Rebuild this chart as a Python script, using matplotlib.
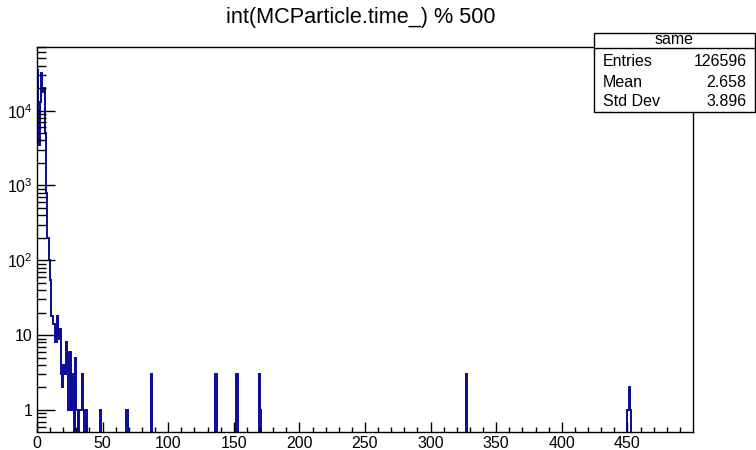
import matplotlib
matplotlib.use("Agg")
import matplotlib.pyplot as plt
import numpy as np
from matplotlib.patches import Rectangle
from matplotlib.ticker import FixedLocator, LogLocator, NullFormatter

plt.rcParams['font.family'] = ['Liberation Sans', 'DejaVu Sans']
plt.rcParams['mathtext.fontset'] = 'custom'
plt.rcParams['mathtext.rm'] = 'Liberation Sans'

# counts of the first bins (0, 1, 2, ...)
low_counts = [35000, 3500, 13000, 32000, 18000, 20000, 5000, 800, 200, 100,
              55, 18, 14, 14, 8, 18, 9, 12, 3, 2,
              4, 3, 8, 6, 1, 6, 1, 3, 0, 5,
              1, 0, 1, 1, 3, 1, 0, 1]

# isolated bins further right
spike_bins = [48, 68, 87, 136, 152, 169, 170, 327, 450, 451, 452]
spike_counts = [1, 1, 3, 3, 3, 3, 1, 3, 1, 2, 1]

title = "int(MCParticle.time_) % 500"
stats_name = "same"
stats_rows = [("Entries", "126596"), ("Mean", "2.658"), ("Std Dev", "3.896")]

n_bins = 500
edges = np.arange(n_bins + 1)
counts = np.zeros(n_bins)
counts[:len(low_counts)] = low_counts
counts[spike_bins] = spike_counts

fig = plt.figure(figsize=(7.56, 4.5), dpi=100)
ax = fig.add_axes([37 / 756, 1 - 432 / 450, (693 - 37) / 756, (432 - 47) / 450])

# empty bins are pushed below the visible range, like ROOT does on log scale
shown = np.where(counts > 0, counts, 1e-3)
ax.stairs(shown, edges, baseline=1e-3, color="#0a0a9c", lw=1.4)

ax.set_yscale("log")
ax.set_xlim(0, 500)

ax.xaxis.set_major_locator(FixedLocator(np.arange(0, 451, 50)))
ax.xaxis.set_minor_locator(FixedLocator(np.arange(0, 500, 10)))
ax.yaxis.set_minor_locator(LogLocator(base=10, subs=np.arange(2, 10), numticks=20))
ax.yaxis.set_minor_formatter(NullFormatter())
ax.set_yticks([1, 10, 100, 1000, 10000])
ax.set_yticklabels(["1", "10", r"$\mathregular{10^{2}}$",
                    r"$\mathregular{10^{3}}$", r"$\mathregular{10^{4}}$"])
ax.set_ylim(0.507, 71000)

ax.tick_params(axis="both", which="both", direction="in", labelsize=11.5,
               top=False, right=False, width=1.0)
ax.tick_params(axis="x", which="major", length=7.2, pad=3)
ax.tick_params(axis="x", which="minor", length=3.6)
ax.tick_params(axis="y", which="major", length=13, pad=3)
ax.tick_params(axis="y", which="minor", length=6.5)
for sp in ax.spines.values():
    sp.set_linewidth(1.0)

fig.text(361 / 756, 1 - 18 / 450, title, ha="center", va="center", fontsize=15.6)

# stats box
bx0, bx1 = 594 / 756, 755 / 756
by0, by1 = 1 - 112 / 450, 1 - 33 / 450
fig.patches.append(Rectangle((bx0, by0), bx1 - bx0, by1 - by0,
                             transform=fig.transFigure, fc="white",
                             ec="black", lw=1.0, zorder=5))
fig.add_artist(plt.Line2D([bx0, bx1], [1 - 47.7 / 450] * 2,
                          transform=fig.transFigure, color="black", lw=1.0, zorder=6))
fig.text((bx0 + bx1) / 2, 1 - 40 / 450, stats_name, ha="center", va="center",
         fontsize=11.5, zorder=7)
row_y = [61.7, 82.5, 101.5]
for (lab, val), yy in zip(stats_rows, row_y):
    fig.text(602.7 / 756, 1 - yy / 450, lab, ha="left", va="center",
             fontsize=11.5, zorder=7)
    fig.text(746.7 / 756, 1 - yy / 450, val, ha="right", va="center",
             fontsize=11.5, zorder=7)

fig.savefig("out.png", dpi=100)
